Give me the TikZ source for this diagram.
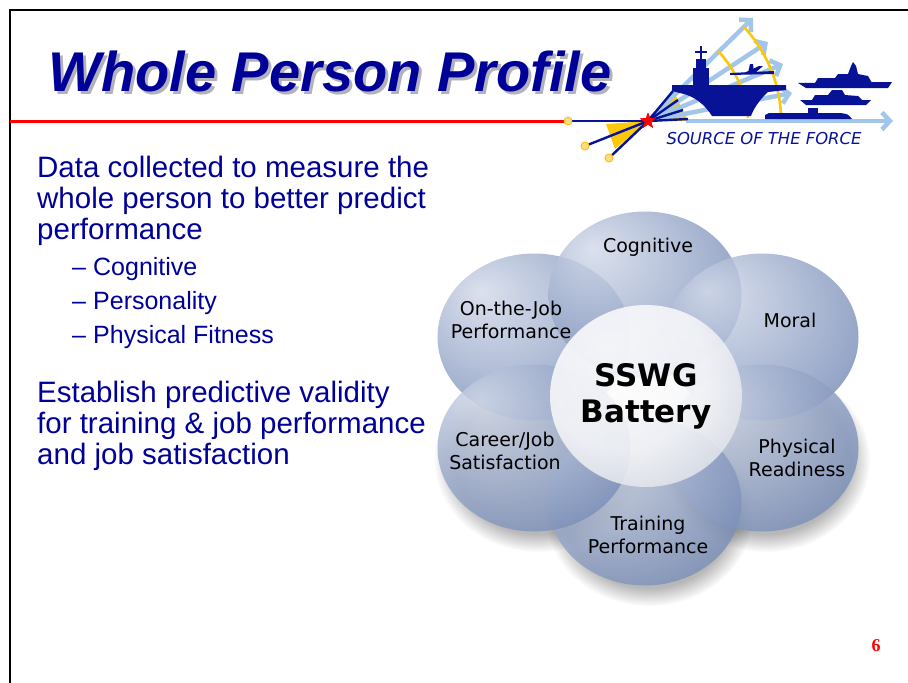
\documentclass[tikz,border=0pt]{standalone}
\usepackage{fontspec}
\setmainfont{Liberation Sans}
\newfontfamily\petalfont{DejaVu Sans}
\newfontfamily\numfont{Liberation Serif}
\usepackage{tikz}
\usetikzlibrary{shapes.geometric,arrows.meta,positioning,calc,fadings}
\definecolor{slidenavy}{RGB}{0,0,153}
\definecolor{logonavy}{RGB}{8,18,150}
\definecolor{logosky}{RGB}{162,198,234}
\definecolor{logogold}{RGB}{252,200,10}
\definecolor{dotgold}{RGB}{250,220,130}
\definecolor{petalhi}{RGB}{212,219,234}
\definecolor{petalmid}{RGB}{160,175,206}
\definecolor{petallo}{RGB}{90,115,166}
\definecolor{hublo}{RGB}{188,194,208}
\definecolor{titleshadow}{RGB}{178,178,188}

\pgfdeclareradialshading{petalshade}{\pgfpoint{-14bp}{14bp}}{color(0bp)=(petalhi); color(20bp)=(petalmid); color(46bp)=(petallo); color(60bp)=(petallo)}
\pgfdeclareradialshading{hubshade}{\pgfpoint{-10bp}{12bp}}{color(0bp)=(white); color(22bp)=(white!88!hublo); color(50bp)=(hublo); color(60bp)=(hublo)}

\begin{document}
\begin{tikzpicture}[
        x=1pt, y=-1pt,
        titletext/.style={anchor=base, inner sep=0pt, font=\bfseries\itshape\fontsize{56}{60}\selectfont},
        bodytext/.style={anchor=base west, align=left, inner sep=0pt, text=slidenavy, font=\fontsize{29.5}{31}\selectfont},
        petal/.style={ellipse, minimum width=193pt, minimum height=167pt, inner sep=0pt, shade, shading=petalshade, fill opacity=0.82},
        hub/.style={ellipse, minimum width=192pt, minimum height=182pt, inner sep=0pt, shade, shading=hubshade, fill opacity=0.88, text opacity=1, align=center, font=\petalfont\bfseries\fontsize{31}{36}\selectfont},
        petallabel/.style={align=center, inner sep=0pt, text=black, font=\petalfont\fontsize{19}{23.5}\selectfont},
        skyarrow/.style={logosky, line width=4.5pt, -{Straight Barb[length=8pt, width=17pt]}},
        ray/.style={logonavy, line width=2.4pt},
        knob/.style={circle, fill=dotgold, draw=logogold!80!orange, line width=0.6pt, minimum size=8pt, inner sep=0pt}
    ]
    \path[use as bounding box, fill=white] (0,0) rectangle (908,683);
    \draw[black, line width=1.6pt] (10,683) -- (10,10) -- (908,10);

    % heading
    \node[titletext, text=titleshadow] at (333,94) {Whole Person Profile};
    \node[titletext, text=slidenavy] (title) at (330,91) {Whole Person Profile};

    % logo
    \node[star, star points=5, star point ratio=2.4, fill=red, minimum size=17pt, inner sep=0pt] (star) at (648,121) {};
    \node[knob] (knobA) at (568,121) {};
    \node[knob] (knobB) at (585,146) {};
    \node[knob] (knobC) at (609,158) {};
    \draw[red, line width=3pt] (10,121) -- (knobA.west);
    \fill[logogold] (star.center) -- (606,124) -- (615,149) -- cycle;
    \fill[logogold] (star.center) -- (673,90) -- (688,121) -- cycle;
    \foreach \ex/\ey in {753/18, 768/42, 783/64, 792/93}
        \draw[skyarrow] (star.center) -- (\ex,\ey);
    \draw[skyarrow] (686,121) -- (893,121);
    \draw[logogold, line width=2.6pt] (744,27) .. controls (770,55) and (781,90) .. (781,119);
    \draw[logogold, line width=2.6pt] (718,51) .. controls (736,70) and (747,95) .. (748,118);
    \draw[ray] (knobA) -- (star.center);
    \draw[ray] (star.center) -- (knobB);
    \draw[ray] (star.center) -- (knobC);
    \foreach \ex/\ey in {673/91, 678/100, 683/110, 688/119}
        \draw[ray] (star.center) -- (\ex,\ey);
    \fill[logonavy] (672,85) -- (786,85) -- (786,90) -- (768,92) .. controls (759,100) and (753,110) .. (751,116)
        -- (712,116) .. controls (705,105) and (695,96) .. (680,93) -- (672,91) -- cycle;
    \fill[logonavy] (693,68) rectangle (709,86);
    \fill[logonavy] (696,59) rectangle (706,68);
    \draw[logonavy, line width=1.3pt] (701,59) -- (701,46) (695,52) -- (707,52);
    \fill[logonavy] (730,73) -- (774,71) -- (774,74) -- (730,75) -- cycle;
    \fill[logonavy] (744,73) -- (759,66) -- (763,66) -- (754,74) -- cycle;
    \fill[logonavy] (748,73) -- (750,64) -- (753,64) -- (754,73) -- cycle;
    \fill[logonavy] (798,83) -- (892,82) -- (888,88) -- (806,88) -- cycle;
    \fill[logonavy] (815,83) -- (818,78) -- (835,78) -- (838,74) -- (848,74) -- (851,66) -- (853,62) -- (856,66)
        -- (858,74) -- (868,76) -- (872,83) -- cycle;
    \fill[logonavy] (800,100) -- (871,100) -- (866,105) -- (806,105) -- cycle;
    \fill[logonavy] (812,100) -- (815,95) -- (828,95) -- (832,90) -- (842,90) -- (845,95) -- (858,96) -- (862,100) -- cycle;
    \fill[logonavy] (765,119) -- (765,115) .. controls (768,113) .. (775,113) -- (840,113) .. controls (848,114) .. (852,119) -- cycle;
    \fill[logonavy] (808,108) rectangle (818,114);
    \node[star, star points=5, star point ratio=2.4, fill=red, minimum size=17pt, inner sep=0pt] at (star) {};
    \node[knob] at (knobA) {};
    \node[knob] at (knobB) {};
    \node[knob] at (knobC) {};
    \node[text=logonavy, inner sep=0pt, font=\petalfont\itshape\fontsize{16.4}{18}\selectfont] (motto) at (764,139) {SOURCE OF THE FORCE};

    % left column
    \node[bodytext] (aim) at (37,239) {Data collected to measure the\\whole person to better predict\\performance};
    \node[bodytext, font=\fontsize{25}{34}\selectfont] (facets) at (72,343)
        {\makebox[21pt][l]{--}Cognitive\\\makebox[21pt][l]{--}Personality\\\makebox[21pt][l]{--}Physical Fitness};
    \node[bodytext] (goal) at (37,464) {Establish predictive validity\\for training \& job performance\\and job satisfaction};

    % battery diagram
    \foreach \sx/\sy in {534/448, 762/448, 645/502}
        \fill[black, opacity=0.28, path fading=circle with fuzzy edge 20 percent] (\sx+4,\sy+12) ellipse [x radius=104, y radius=92];
    \node[petal] (ojp) at (534,337) {};
    \node[petal] (cog) at (645,295) {};
    \node[petal] (moral) at (762,337) {};
    \node[petal] (phys) at (762,448) {};
    \node[petal] (train) at (645,502) {};
    \node[petal] (career) at (534,448) {};
    \node[hub] (hub) at (646,396) {SSWG\\Battery};

    \node[petallabel] (coglbl) at (648,247) {Cognitive};
    \node[petallabel] (ojplbl) at (511,320) {On-the-Job\\Performance};
    \node[petallabel] (morallbl) at (790,320) {Moral};
    \node[petallabel] (careerlbl) at (505,451) {Career/Job\\Satisfaction};
    \node[petallabel] (physlbl) at (797,458) {Physical\\Readiness};
    \node[petallabel] (trainlbl) at (648,535) {Training\\Performance};

    \node[text=red, inner sep=0pt, font=\numfont\bfseries\fontsize{18}{20}\selectfont] (pagenum) at (876,646) {6};
\end{tikzpicture}
\end{document}
